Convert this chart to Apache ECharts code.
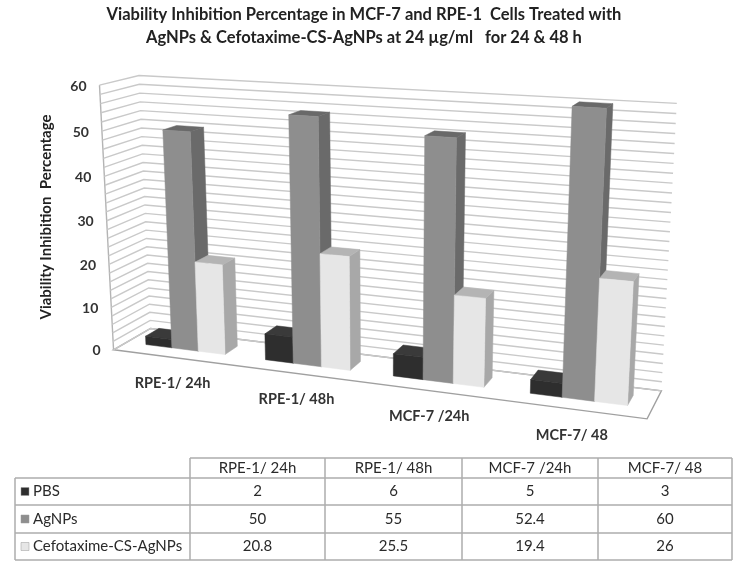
<!DOCTYPE html>
<html><head><meta charset="utf-8">
<style>html,body{margin:0;padding:0;background:#fff}#c{width:735px;height:565px}</style>
<script src="https://cdn.jsdelivr.net/npm/echarts@6/dist/echarts.min.js"></script>
</head><body><div id="c"></div>
<script>
const categories = ['RPE-1/ 24h','RPE-1/ 48h','MCF-7 /24h','MCF-7/ 48'];
const seriesNames = ['PBS','AgNPs','Cefotaxime-CS-AgNPs'];
const pbs = [2,6,5,3];
const agnps = [50,55,52.4,60];
const cefo = [20.8,25.5,19.4,26];
const tableText = [['2','6','5','3'],['50','55','52.4','60'],['20.8','25.5','19.4','26']];
const yTicks = [0,10,20,30,40,50,60];
const yLines = [0,2,4,6,8,10,12,14,16,18,20,22,24,26,28,30,32,34,36,38,40,42,44,46,48,50,52,54,56,58,60];

// perspective camera of the 3-D plot (category, value, depth) -> page
const P=[0.6416,-0.0270,0.0632,0.1622,0.0288,-0.5377,-0.0111,0.6996,-0.1305,-0.0488,0.0481];
function project(u,v,w){const X=u/4,Y=v/60,Z=w,d=P[8]*X+P[9]*Y+P[10]*Z+1;
 return [700*(P[0]*X+P[1]*Y+P[2]*Z+P[3])/d,500*(P[4]*X+P[5]*Y+P[6]*Z+P[7])/d];}

const W0=.35,W1=.72,BAR=.223;
const faceColors=[['#2e2e2e','#3a3a3a','#262626'],['#8e8e8e','#696969','#6a6a6a'],['#e6e6e6','#b4b4b4','#a8a8a8']];
const FONT='Lato';
const gridRect={left:100,top:84,width:560,height:270};

function toUV(params,api,cat,val){
 const cs=params.coordSys,c=api.coord([cat,val]);
 return [(c[0]-cs.x)/cs.width*categories.length,(cs.y+cs.height-c[1])/cs.height*60];
}
function barItem(si){return function(params,api){
 const cat=api.value(0),val=api.value(1),uv=toUV(params,api,cat,val);
 const uc=uv[0]+(si-1)*BAR,v=uv[1],ul=uc-BAR/2,ur=uc+BAR/2,col=faceColors[si];
 const poly=(pts,f)=>({type:'polygon',shape:{points:pts},style:{fill:f,stroke:f,lineWidth:.5}});
 return {type:'group',children:[
  poly([project(ur,0,W0),project(ur,0,W1),project(ur,v,W1),project(ur,v,W0)],col[2]),
  poly([project(ul,v,W0),project(ur,v,W0),project(ur,v,W1),project(ul,v,W1)],col[1]),
  poly([project(ul,0,W0),project(ur,0,W0),project(ur,v,W0),project(ul,v,W0)],col[0])
 ]};
};}
function wallItem(params,api){
 const v=toUV(params,api,0,api.value(1))[1],U=categories.length;
 return {type:'polyline',shape:{points:[project(0,v,0),project(0,v,1),project(U,v,1)]},
  style:{fill:null,stroke:'#c9c9c9',lineWidth:1.4}};
}
function floorItem(params,api){
 const U=categories.length;
 return {type:'group',children:[
  {type:'polygon',shape:{points:[project(0,0,0),project(U,0,0),project(U,0,1),project(0,0,1)]},style:{fill:'#fff',stroke:'#a0a0a0',lineWidth:1.4}},
  {type:'line',shape:{x1:project(0,0,0)[0],y1:project(0,0,0)[1],x2:project(0,60,0)[0],y2:project(0,60,0)[1]},style:{stroke:'#b4b4b4',lineWidth:1.4}}
 ]};
}
function yLabelItem(params,api){
 const p=project(0,toUV(params,api,0,api.value(1))[1],0);
 return {type:'text',x:p[0]-13,y:p[1]+1,style:{text:String(api.value(1)),fill:'#333',font:'bold 14px '+FONT,align:'right',verticalAlign:'middle'}};
}
function xLabelItem(params,api){
 const i=api.value(0),p=project(toUV(params,api,i,0)[0],0,0);
 return {type:'text',x:p[0],y:p[1]+26,style:{text:categories[i],fill:'#333',font:'bold 14.5px '+FONT,align:'center',verticalAlign:'middle'}};
}

// table
const colX=[190,325,462,598,732],rowY=[458,478,505,533,560],tableLeft=15;
const g=[];
const tl=(x1,y1,x2,y2)=>g.push({type:'line',shape:{x1,y1,x2,y2},style:{stroke:'#adadad',lineWidth:1.5},silent:true});
tl(colX[0],rowY[0],colX[4],rowY[0]);
tl(tableLeft,rowY[1],colX[4],rowY[1]);tl(tableLeft,rowY[2],colX[4],rowY[2]);tl(tableLeft,rowY[3],colX[4],rowY[3]);tl(tableLeft,rowY[4],colX[4],rowY[4]);
tl(tableLeft,rowY[1],tableLeft,rowY[4]);
colX.forEach(x=>tl(x,rowY[0],x,rowY[4]));
const tt=(x,y,t,al)=>g.push({type:'text',x,y,style:{text:t,fill:'#2a2a2a',font:'15px '+FONT,align:al||'center',verticalAlign:'middle'}});
categories.forEach((c,i)=>tt((colX[i]+colX[i+1])/2,(rowY[0]+rowY[1])/2,c));
seriesNames.forEach((s,r)=>{
 const yc=(rowY[r+1]+rowY[r+2])/2;
 g.push({type:'rect',shape:{x:21,y:yc-4,width:8,height:8},style:{fill:faceColors[r][0],stroke:'#999',lineWidth:.5}});
 tt(33,yc,s,'left');
 tableText[r].forEach((t,i)=>tt((colX[i]+colX[i+1])/2,yc,t));
});
g.push({type:'text',x:46,y:217,rotation:Math.PI/2,style:{text:'Viability Inhibition  Percentage',fill:'#222',font:'bold 15px '+FONT,align:'center',verticalAlign:'middle'}});

const chart=echarts.init(document.getElementById('c'),null,{renderer:'canvas'});
const hidden={silent:true,animation:false,clip:false,coordinateSystem:'cartesian2d',type:'custom'};
const catData=categories.map((c,i)=>[i,0]);
chart.setOption({
 animation:false,backgroundColor:'#fff',
 title:{text:'Viability Inhibition Percentage in MCF-7 and RPE-1  Cells Treated with\nAgNPs & Cefotaxime-CS-AgNPs at 24 µg/ml   for 24 & 48 h',left:359,top:-2,
  textAlign:'center',textStyle:{fontFamily:FONT,fontWeight:'bold',fontSize:16.5,lineHeight:23,color:'#222'}},
 grid:Object.assign({show:false},gridRect),
 xAxis:{type:'category',data:categories,show:false},
 yAxis:{type:'value',min:0,max:60,interval:10,show:false},
 graphic:g,
 series:[
  Object.assign({},hidden,{name:'floor',data:[[0,0]],renderItem:floorItem,z:1}),
  Object.assign({},hidden,{name:'walls',data:yLines.map(v=>[0,v]),renderItem:wallItem,z:2}),
  Object.assign({},hidden,{name:seriesNames[0],data:pbs.map((v,i)=>[i,v]),renderItem:barItem(0),z:3}),
  Object.assign({},hidden,{name:seriesNames[1],data:agnps.map((v,i)=>[i,v]),renderItem:barItem(1),z:4}),
  Object.assign({},hidden,{name:seriesNames[2],data:cefo.map((v,i)=>[i,v]),renderItem:barItem(2),z:5}),
  Object.assign({},hidden,{name:'yLabels',data:yTicks.map(v=>[0,v]),renderItem:yLabelItem,z:6}),
  Object.assign({},hidden,{name:'xLabels',data:catData,renderItem:xLabelItem,z:6})
 ]
});
</script></body></html>
